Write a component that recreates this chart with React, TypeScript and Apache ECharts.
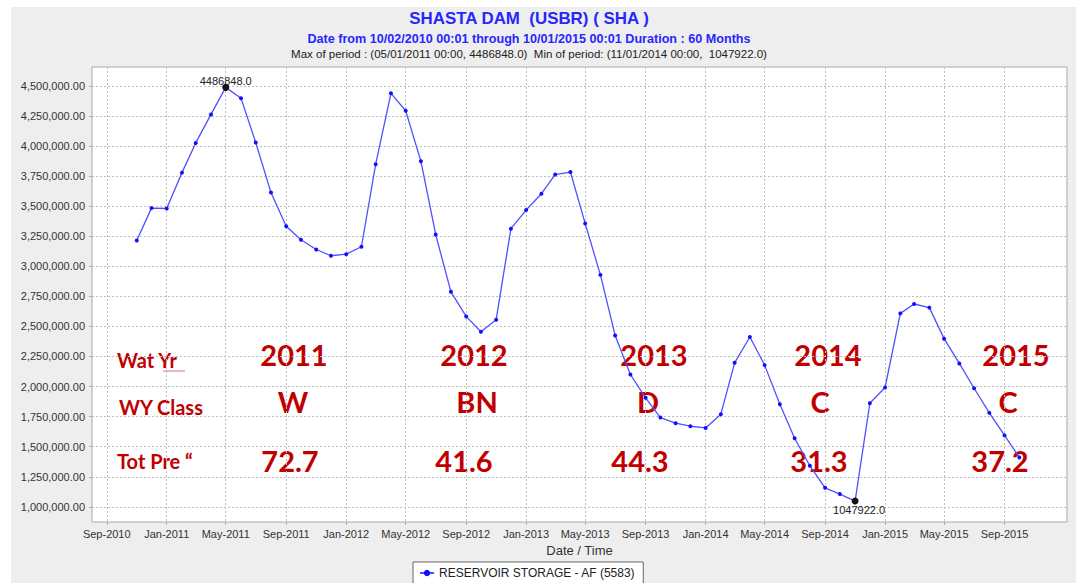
import React, { useEffect, useRef } from 'react';
import * as echarts from 'echarts';

// ---------- data ----------
const months = [
  '2010-11', '2010-12',
  '2011-01', '2011-02', '2011-03', '2011-04', '2011-05', '2011-06', '2011-07', '2011-08', '2011-09', '2011-10', '2011-11', '2011-12',
  '2012-01', '2012-02', '2012-03', '2012-04', '2012-05', '2012-06', '2012-07', '2012-08', '2012-09', '2012-10', '2012-11', '2012-12',
  '2013-01', '2013-02', '2013-03', '2013-04', '2013-05', '2013-06', '2013-07', '2013-08', '2013-09', '2013-10', '2013-11', '2013-12',
  '2014-01', '2014-02', '2014-03', '2014-04', '2014-05', '2014-06', '2014-07', '2014-08', '2014-09', '2014-10', '2014-11', '2014-12',
  '2015-01', '2015-02', '2015-03', '2015-04', '2015-05', '2015-06', '2015-07', '2015-08', '2015-09', '2015-10',
];
const storage = [
  3214000, 3483000,
  3480000, 3778000, 4025000, 4262000, 4486848, 4397000, 4028000, 3612000, 3333000, 3220000, 3139000, 3087000,
  3100000, 3162000, 3848000, 4437000, 4292000, 3872000, 3264000, 2787000, 2583000, 2456000, 2556000, 3312000,
  3467000, 3603000, 3762000, 3783000, 3356000, 2928000, 2425000, 2100000, 1906000, 1742000, 1695000, 1670000,
  1656000, 1770000, 2197000, 2412000, 2178000, 1853000, 1570000, 1342000, 1158000, 1106000, 1047922, 1861000,
  1992000, 2608000, 2686000, 2656000, 2398000, 2192000, 1986000, 1781000, 1594000, 1411000,
];
const xTickLabels = [
  'Sep-2010', 'Jan-2011', 'May-2011', 'Sep-2011', 'Jan-2012', 'May-2012', 'Sep-2012', 'Jan-2013',
  'May-2013', 'Sep-2013', 'Jan-2014', 'May-2014', 'Sep-2014', 'Jan-2015', 'May-2015', 'Sep-2015',
];
const yTickValues = [
  1000000, 1250000, 1500000, 1750000, 2000000, 2250000, 2500000, 2750000,
  3000000, 3250000, 3500000, 3750000, 4000000, 4250000, 4500000,
];
const seriesName = 'RESERVOIR STORAGE - AF (5583)';
const titleText = 'SHASTA DAM  (USBR) ( SHA )';
const subTitleText = 'Date from 10/02/2010 00:01 through 10/01/2015 00:01 Duration : 60 Months';
const periodText = 'Max of period : (05/01/2011 00:00, 4486848.0)  Min of period: (11/01/2014 00:00,  1047922.0)';
const rowLabels = ['Wat Yr', 'WY Class', 'Tot Pre \u201C'];
const waterYears = ['2011', '2012', '2013', '2014', '2015'];
const wyClasses = ['W', 'BN', 'D', 'C', 'C'];
const totPrecip = ['72.7', '41.6', '44.3', '31.3', '37.2'];

const MON = ['Jan', 'Feb', 'Mar', 'Apr', 'May', 'Jun', 'Jul', 'Aug', 'Sep', 'Oct', 'Nov', 'Dec'];

function monthToTime(s: string): number {
  const [y, m] = s.split('-').map(Number);
  return new Date(y, m - 1, 1).getTime();
}
function labelToTime(s: string): number {
  const [mon, y] = s.split('-');
  return new Date(Number(y), MON.indexOf(mon), 1).getTime();
}

const FONT = '"Liberation Sans", Arial, sans-serif';
const ANNO_FONT = 'Lato, "Open Sans", sans-serif';
const RED = '#c00000';
const BLUE = '#2626ff';

export default function App() {
  const ref = useRef<HTMLDivElement>(null);

  useEffect(() => {
    if (!ref.current) return;
    const chart = echarts.init(ref.current, undefined, { renderer: 'svg' });

    const seriesData = months.map((m, i) => [monthToTime(m), storage[i]]);
    const xTicks = xTickLabels.map(labelToTime);

    const graphics: any[] = [];
    // titles
    const titleCx = 518;
    [
      { t: titleText, y: 11, size: 16.9, weight: 'bold', color: BLUE },
      { t: subTitleText, y: 32, size: 12.6, weight: 'bold', color: BLUE },
      { t: periodText, y: 47, size: 11.5, weight: 'normal', color: '#222' },
    ].forEach((o) => {
      graphics.push({
        type: 'text', x: titleCx, y: o.y,
        style: { text: o.t, fill: o.color, fontSize: o.size, fontWeight: o.weight, fontFamily: FONT, align: 'center', verticalAlign: 'middle' },
      });
    });

    // annotation layout (pixel positions in chart space)
    const colX = [
      [283, 282, 279],
      [463, 466, 453],
      [643, 637, 629],
      [817, 809, 808],
      [1005, 997, 989],
    ];
    const rowY = [347.5, 394.5, 453];
    const labelX = [106, 108, 106];
    rowLabels.forEach((t, r) => {
      graphics.push({
        type: 'text', x: labelX[r], y: rowY[r] + (r === 2 ? 1 : 5),
        style: { text: t, fill: RED, fontSize: 20, fontWeight: 'bold', fontFamily: ANNO_FONT, align: 'left', verticalAlign: 'middle' },
      });
    });
    graphics.push({
      type: 'line', shape: { x1: 152, y1: 364, x2: 174, y2: 364 },
      style: { stroke: '#e07070', lineWidth: 1 },
    });
    const rows = [waterYears, wyClasses, totPrecip];
    rows.forEach((arr, r) => {
      arr.forEach((t, c) => {
        graphics.push({
          type: 'text', x: colX[c][r], y: rowY[r],
          style: { text: t, fill: RED, fontSize: 29, fontWeight: 'bold', fontFamily: ANNO_FONT, align: 'center', verticalAlign: 'middle' },
        });
      });
    });

    const option: any = {
      animation: false,
      backgroundColor: '#eeeeee',
      legend: {
        data: [seriesName],
        left: 402, top: 555,
        padding: [5, 8, 8, 6],
        backgroundColor: '#fff',
        borderColor: '#666', borderWidth: 1, borderRadius: 0,
        itemWidth: 14, itemHeight: 8, itemGap: 4,
        textStyle: { fontSize: 12, color: '#222', fontFamily: FONT },
      },
      grid: {
        left: 81, top: 60, right: 9, bottom: 61,
        show: true, backgroundColor: '#fff', borderColor: '#a8a8a8', borderWidth: 1,
      },
      xAxis: {
        type: 'value',
        min: new Date(2010, 7, 2).getTime(),
        max: new Date(2016, 0, 6).getTime(),
        axisLine: { show: false },
        axisTick: { show: true, length: 3, lineStyle: { color: '#aaa' }, customValues: xTicks },
        axisLabel: {
          customValues: xTicks,
          formatter: (v: number) => { const d = new Date(v); return `${MON[d.getMonth()]}-${d.getFullYear()}`; },
          fontSize: 11, color: '#333', margin: 6, fontFamily: FONT,
        },
        splitLine: { show: true, lineStyle: { type: [2, 2], color: '#bdbdbd', width: 1 } },
        name: 'Date / Time', nameLocation: 'middle', nameGap: 21,
        nameTextStyle: { fontSize: 13, color: '#333', fontFamily: FONT },
      },
      yAxis: {
        type: 'value',
        min: 874000, max: 4656000,
        axisLine: { show: false },
        axisTick: { show: true, length: 3, lineStyle: { color: '#aaa' }, customValues: yTickValues },
        axisLabel: {
          customValues: yTickValues,
          formatter: (v: number) => v.toLocaleString('en-US', { minimumFractionDigits: 2, maximumFractionDigits: 2 }),
          fontSize: 11, color: '#333', margin: 7, fontFamily: FONT,
        },
        splitLine: { show: true, lineStyle: { type: [2, 2], color: '#bdbdbd', width: 1 } },
      },
      series: [
        {
          name: seriesName,
          type: 'line',
          data: seriesData,
          symbol: 'circle',
          symbolSize: 4,
          showSymbol: true,
          itemStyle: { color: '#1010ff' },
          lineStyle: { color: '#5050ff', width: 1.3 },
          markPoint: {
            symbol: 'circle',
            symbolSize: 7,
            itemStyle: { color: '#111' },
            data: [
              {
                type: 'max',
                label: { show: true, position: 'inside', offset: [0, -6], color: '#222', fontSize: 11, fontFamily: FONT, formatter: (p: any) => Number(p.value).toFixed(1) },
              },
              {
                type: 'min',
                label: { show: true, position: 'inside', offset: [4, 9], color: '#222', fontSize: 11, fontFamily: FONT, formatter: (p: any) => Number(p.value).toFixed(1) },
              },
            ],
          },
        },
      ],
      graphic: graphics,
    };

    chart.setOption(option);
    return () => chart.dispose();
  }, []);

  return (
    <div style={{ position: 'absolute', left: 0, top: 0, width: 1076, height: 583, background: '#fff', overflow: 'hidden' }}>
      <div ref={ref} style={{ position: 'absolute', left: 11, top: 7, width: 1065, height: 576 }} />
    </div>
  );
}
